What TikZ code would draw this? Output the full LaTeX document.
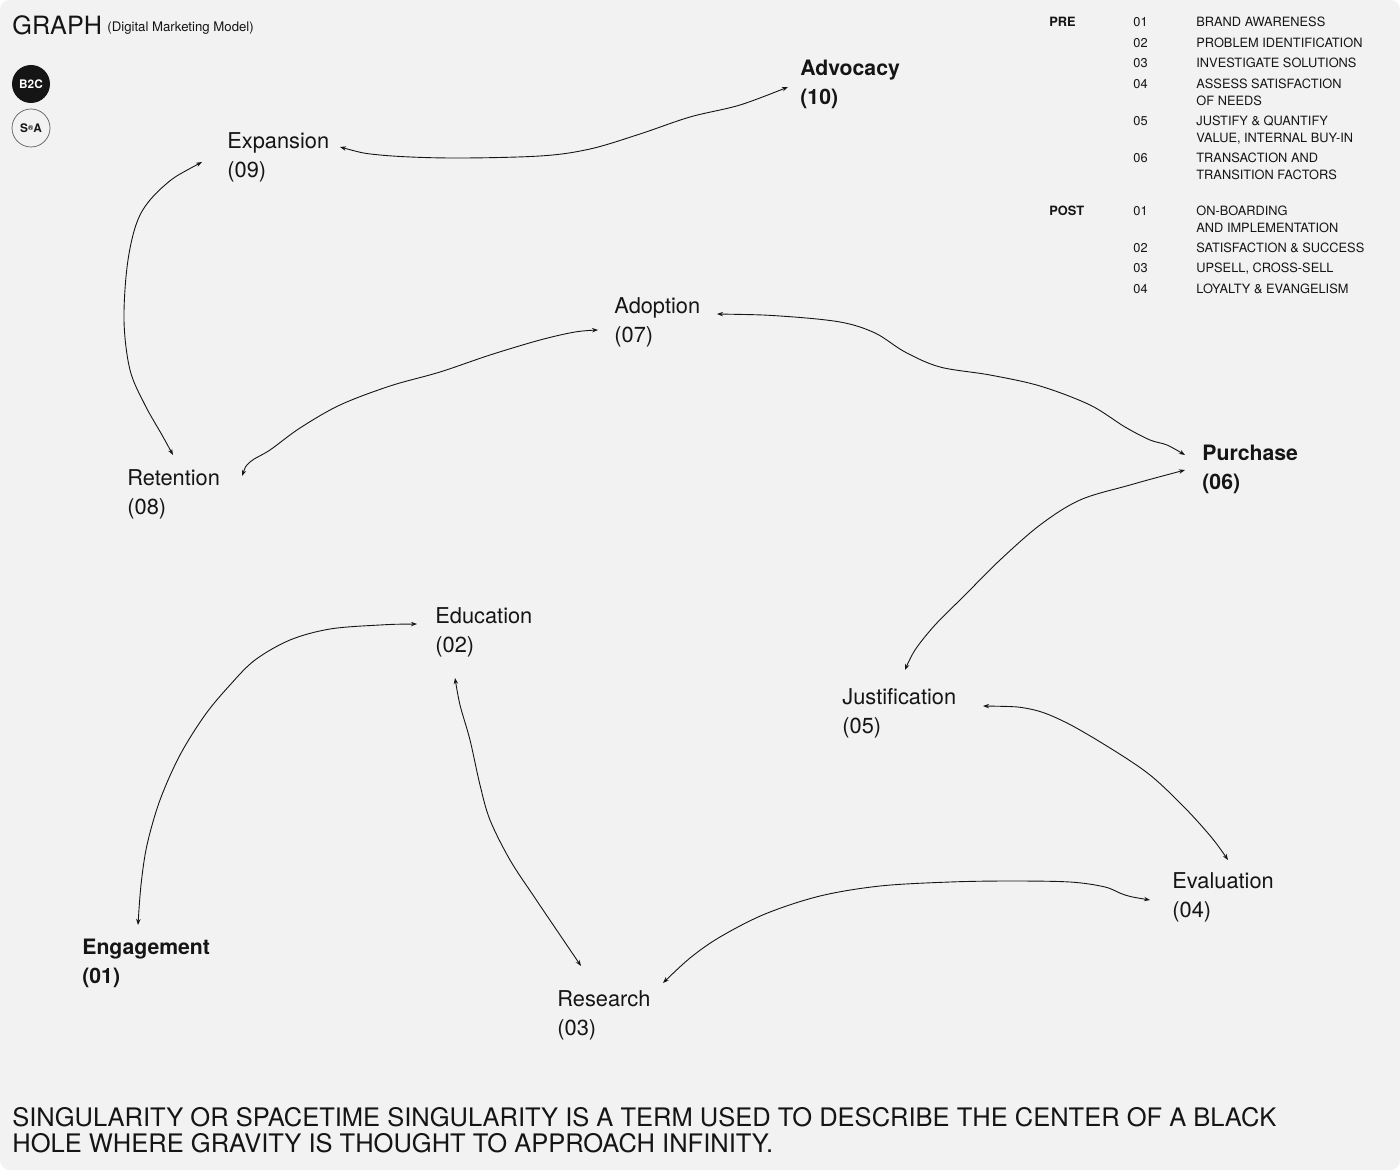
\documentclass[tikz,border=0pt]{standalone}
\usepackage{fontspec}
\setmainfont{TeX Gyre Heros}
\usetikzlibrary{arrows.meta}
\definecolor{bg}{HTML}{F2F2F2}
\definecolor{ink}{HTML}{151515}
\tikzset{
  lbl/.style={font=\fontsize{10.9}{14.5}\selectfont, align=left, inner sep=0pt, anchor=base west, text=ink},
  blbl/.style={lbl, font=\fontsize{10.6}{14.5}\selectfont\bfseries},
  leg/.style={font=\fontsize{6.4}{8.5}\selectfont, align=left, inner sep=0pt, anchor=base west, text=ink},
  legb/.style={leg, font=\fontsize{6.4}{8.5}\selectfont\bfseries},
  conn/.style={draw=ink, line width=0.45pt, {Stealth[length=3pt,width=2.2pt]}-{Stealth[length=3pt,width=2.2pt]}},
}
\begin{document}
\begin{tikzpicture}[x=0.5pt,y=-0.5pt]
\fill[white] (0,0) rectangle (1400,1170);
\useasboundingbox (0,0) rectangle (1400,1170);
\fill[bg, rounded corners=5pt] (0,0) rectangle (1400,1170);

% title
\node[inner sep=0pt, anchor=base west, font=\fontsize{12.6}{14}\selectfont, text=ink] (title) at (12,35) {GRAPH};
\node[inner sep=0pt, anchor=base west, font=\fontsize{6.6}{8}\selectfont, text=ink] (subtitle) at (107,32) {(Digital Marketing Model)};

% badges
\node[circle, fill=ink, minimum size=19pt, inner sep=0pt, text=white, font=\fontsize{5.9}{7}\selectfont\bfseries] (b2c) at (31,84) {B2C};
\node[circle, draw=ink!70, line width=0.35pt, minimum size=19pt, inner sep=0pt, text=ink, font=\fontsize{5.9}{7}\selectfont\bfseries] (sa) at (31,128) {S\raisebox{0.35ex}{\fontsize{3.5}{4}\selectfont ®}A};

% legend (base anchor = baseline of last line)
\node[legb] (pre) at (1049,27) {PRE};
\node[leg] (p1n) at (1133,27) {01};  \node[leg] (p1t) at (1196,27) {BRAND AWARENESS};
\node[leg] (p2n) at (1133,48) {02};  \node[leg] (p2t) at (1196,48) {PROBLEM IDENTIFICATION};
\node[leg] (p3n) at (1133,68) {03};  \node[leg] (p3t) at (1196,68) {INVESTIGATE SOLUTIONS};
\node[leg] (p4n) at (1133,89) {04};  \node[leg] (p4t) at (1196,106) {ASSESS SATISFACTION\\OF NEEDS};
\node[leg] (p5n) at (1133,126) {05}; \node[leg] (p5t) at (1196,143) {JUSTIFY \& QUANTIFY\\VALUE, INTERNAL BUY-IN};
\node[leg] (p6n) at (1133,163) {06}; \node[leg] (p6t) at (1196,180) {TRANSACTION AND\\TRANSITION FACTORS};
\node[legb] (post) at (1049,216) {POST};
\node[leg] (q1n) at (1133,216) {01}; \node[leg] (q1t) at (1196,233) {ON-BOARDING\\AND IMPLEMENTATION};
\node[leg] (q2n) at (1133,253) {02}; \node[leg] (q2t) at (1196,253) {SATISFACTION \& SUCCESS};
\node[leg] (q3n) at (1133,273) {03}; \node[leg] (q3t) at (1196,273) {UPSELL, CROSS-SELL};
\node[leg] (q4n) at (1133,294) {04}; \node[leg] (q4t) at (1196,294) {LOYALTY \& EVANGELISM};

% stage labels (y = baseline of second line)
\node[blbl] (n10) at (800,105) {Advocacy\\(10)};
\node[lbl]  (n09) at (227,178) {Expansion\\(09)};
\node[lbl]  (n07) at (614,343) {Adoption\\(07)};
\node[lbl]  (n08) at (127,514) {Retention\\(08)};
\node[blbl] (n06) at (1202,489) {Purchase\\(06)};
\node[lbl]  (n02) at (435,652) {Education\\(02)};
\node[lbl]  (n05) at (842,733) {Justification\\(05)};
\node[lbl]  (n04) at (1172,917) {Evaluation\\(04)};
\node[blbl] (n01) at (82,983) {Engagement\\(01)};
\node[lbl]  (n03) at (557,1035) {Research\\(03)};

% connector ends
\coordinate (a09) at (340,147);  \coordinate (a10) at (788,87);
\coordinate (b09) at (202,162);  \coordinate (b08) at (173,455);
\coordinate (c08) at (242,476);  \coordinate (c07) at (598,330);
\coordinate (d07) at (717,314);  \coordinate (d06) at (1185,455);
\coordinate (e06) at (1185,470); \coordinate (e05) at (905,670);
\coordinate (f05) at (983,706);  \coordinate (f04) at (1228,860);
\coordinate (g04) at (1150,900); \coordinate (g03) at (663,983);
\coordinate (h03) at (581,966);  \coordinate (h02) at (455,678);
\coordinate (i02) at (417,624);  \coordinate (i01) at (138,925);

% connectors
\draw[conn] plot[smooth, tension=0.55] coordinates {(a09) (380,155) (450,158) (540,156) (590,149) (640,134) (690,117) (740,105) (a10)};
\draw[conn] plot[smooth, tension=0.55] coordinates {(b09) (165,185) (140,215) (128,260) (124,320) (130,370) (145,405) (162,435) (b08)};
\draw[conn] plot[smooth, tension=0.55] coordinates {(c08) (250,462) (270,450) (300,428) (340,405) (390,386) (440,372) (490,355) (540,340) (575,332) (c07)};
\draw[conn] plot[smooth, tension=0.55] coordinates {(d07) (780,316) (840,322) (875,333) (905,352) (940,367) (990,375) (1040,386) (1090,405) (1125,427) (1150,440) (1167,445) (d06)};
\draw[conn] plot[smooth, tension=0.55] coordinates {(e06) (1130,485) (1080,500) (1040,525) (1000,560) (965,595) (935,625) (915,650) (e05)};
\draw[conn] plot[smooth, tension=0.55] coordinates {(f05) (1030,709) (1065,722) (1110,748) (1150,775) (1185,808) (1212,838) (f04)};
\draw[conn] plot[smooth, tension=0.55] coordinates {(g04) (1125,895) (1105,887) (1070,882) (1010,881) (950,882) (880,886) (820,896) (765,914) (720,937) (690,958) (g03)};
\draw[conn] plot[smooth, tension=0.55] coordinates {(h03) (560,935) (535,898) (510,860) (490,820) (480,785) (470,740) (460,705) (h02)};
\draw[conn] plot[smooth, tension=0.55] coordinates {(i02) (380,625) (330,629) (290,640) (255,660) (230,685) (205,715) (180,755) (160,800) (147,845) (141,885) (i01)};

% footer
\node[inner sep=0pt, anchor=base west, align=left, font=\fontsize{12.75}{13}\selectfont, text=ink] (foot) at (12,1152) {SINGULARITY OR SPACETIME SINGULARITY IS A TERM USED TO DESCRIBE THE CENTER OF A BLACK\\HOLE WHERE GRAVITY IS THOUGHT TO APPROACH INFINITY.};
\end{tikzpicture}
\end{document}
